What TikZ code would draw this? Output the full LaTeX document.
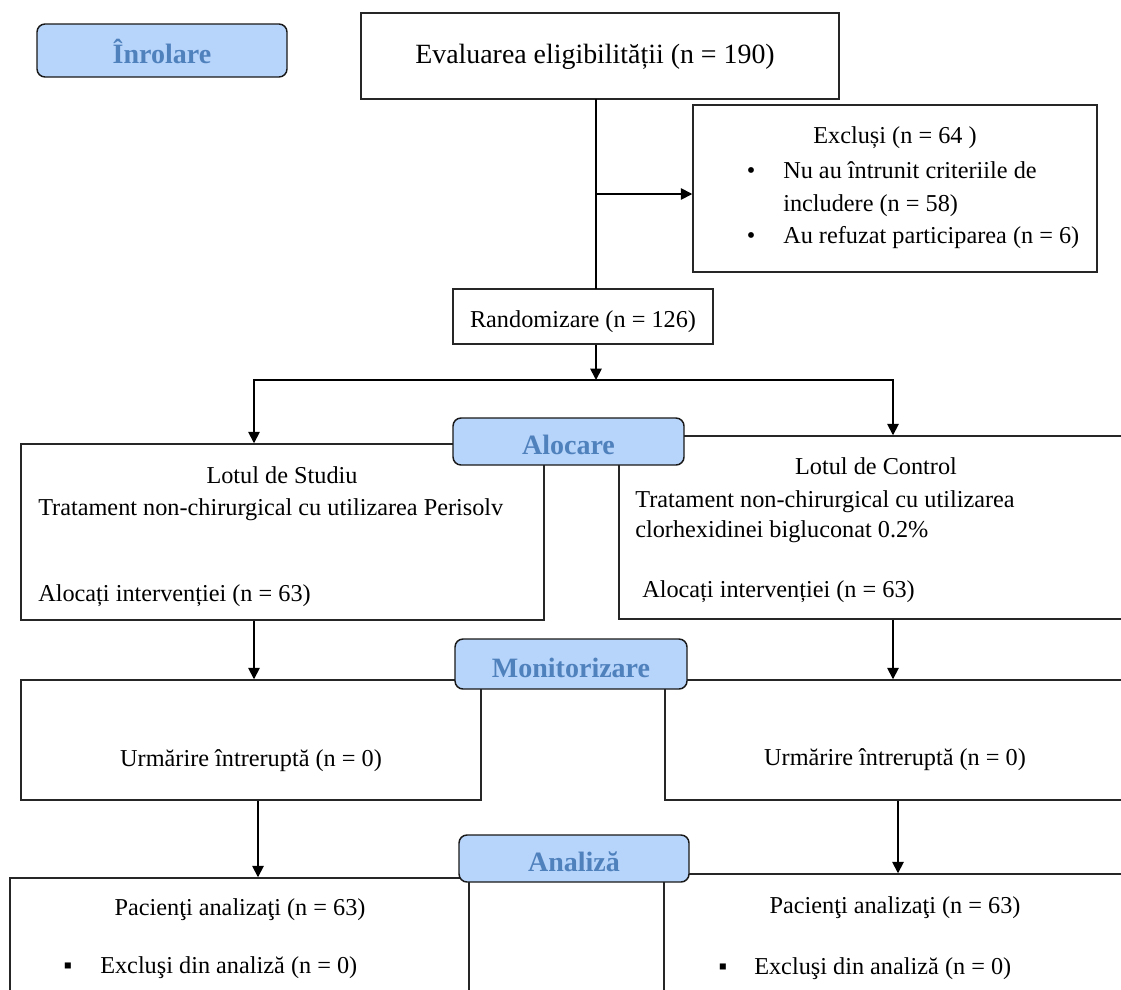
\documentclass[tikz,border=0pt]{standalone}
\usepackage{fontspec}
\setmainfont{Liberation Serif}
\usetikzlibrary{arrows.meta,fit}
\definecolor{lblfill}{RGB}{183,212,250}
\definecolor{lbltext}{RGB}{79,129,189}
\begin{document}
\begin{tikzpicture}[x=0.75pt,y=-0.75pt,
  box/.style={draw=black!85, line width=1.1pt, inner sep=0pt},
  phase/.style={draw=black!90, line width=1.1pt, fill=lblfill, rounded corners=6pt, inner sep=0pt},
  phasetxt/.style={inner sep=0pt, anchor=base, text=lbltext, font=\fontsize{21}{24}\selectfont\bfseries},
  txt/.style={inner sep=0pt, font=\fontsize{18.2}{22}\selectfont},
  conn/.style={line width=1.3pt, black, line cap=rect},
  arr/.style={line width=1.3pt, black, -{Triangle[width=8.5pt,length=8.5pt]}}
]
\useasboundingbox (0,0) rectangle (1121,989);
\clip (0,0) rectangle (1121,989);

% boxes
\node[box, fit={(361,13) (839,99)}] (eval) {};
\node[box, fit={(693,105) (1097,272)}] (excl) {};
\node[box, fit={(453,289) (713,344)}] (rand) {};
\node[box, fit={(21,444) (544,620)}] (stud) {};
\node[box, fit={(619,436) (1133,619)}] (ctrl) {};
\node[box, fit={(21,680) (481,800)}] (monL) {};
\node[box, fit={(665,680) (1126,800)}] (monR) {};
\node[box, fit={(10,878) (469,1010)}] (anaL) {};
\node[box, fit={(664,874) (1126,1010)}] (anaR) {};

% phase labels
\node[phase, fit={(37,24) (287,77)}] (pInr) {};
\node[phase, fit={(453,418) (684,465)}] (pAloc) {};
\node[phase, fit={(455,639) (687,689)}] (pMon) {};
\node[phase, fit={(459,835) (689,882)}] (pAna) {};
\node[phasetxt] (tInr) at (162,63) {Înrolare};
\node[phasetxt] (tAloc) at (568.5,454) {Alocare};
\node[phasetxt] (tMon) at (571,677) {Monitorizare};
\node[phasetxt] (tAna) at (574,871) {Analiză};

% texts
\node[txt, anchor=base, font=\fontsize{20.9}{24}\selectfont] (tEval) at (595,63) {Evaluarea eligibilității (n = 190)};
\node[txt, anchor=base] (tExcl) at (895,143) {Excluși (n = 64 )};
\node[txt, anchor=base] (bE1) at (751,178) {•};
\node[txt, anchor=base west] (tE1) at (783,178) {Nu au întrunit criteriile de};
\node[txt, anchor=base west] (tE2) at (783,211) {includere (n = 58)};
\node[txt, anchor=base] (bE3) at (751,243) {•};
\node[txt, anchor=base west] (tE3) at (783,243) {Au refuzat participarea (n = 6)};
\node[txt, anchor=base] (tRand) at (583,327) {Randomizare (n = 126)};

\node[txt, anchor=base] (tS1) at (282,483) {Lotul de Studiu};
\node[txt, anchor=base west] (tS2) at (38,515) {Tratament non-chirurgical cu utilizarea Perisolv};
\node[txt, anchor=base west] (tS3) at (38,601) {Alocați intervenției (n = 63)};

\node[txt, anchor=base] (tC1) at (876,474) {Lotul de Control};
\node[txt, anchor=base west] (tC2) at (635,507) {Tratament non-chirurgical cu utilizarea};
\node[txt, anchor=base west] (tC3) at (635,537) {clorhexidinei bigluconat 0.2\%};
\node[txt, anchor=base west] (tC4) at (642,597) {Alocați intervenției (n = 63)};

\node[txt, anchor=base] (tML) at (251,766) {Urmărire întreruptă (n = 0)};
\node[txt, anchor=base] (tMR) at (895,765) {Urmărire întreruptă (n = 0)};

\node[txt, anchor=base] (tAL1) at (240,915) {Pacienţi analizaţi (n = 63)};
\node[txt, anchor=base] (bAL) at (68,973) {▪};
\node[txt, anchor=base west] (tAL2) at (100,973) {Excluşi din analiză (n = 0)};
\node[txt, anchor=base] (tAR1) at (895,913) {Pacienţi analizaţi (n = 63)};
\node[txt, anchor=base] (bAR) at (723,974) {▪};
\node[txt, anchor=base west] (tAR2) at (754,974) {Excluşi din analiză (n = 0)};

% helper coordinates
\coordinate (xA) at (596,0);
\coordinate (br) at (596,194);
\coordinate (sp) at (596,380);
\coordinate (spL) at (254,380);
\coordinate (spR) at (893,380);
\coordinate (xL1) at (254,0);
\coordinate (xR1) at (893,0);
\coordinate (xL2) at (258,0);
\coordinate (xR2) at (898,0);

% connectors
\draw[conn] (eval.south -| xA) -- (rand.north -| xA);
\draw[arr] (br) -- (excl.west |- br);
\draw[arr] (rand.south -| xA) -- (sp);
\draw[conn] (spL) -- (spR);
\draw[arr] (spL) -- (stud.north -| spL);
\draw[arr] (spR) -- (ctrl.north -| spR);
\draw[arr] (stud.south -| xL1) -- (monL.north -| xL1);
\draw[arr] (ctrl.south -| xR1) -- (monR.north -| xR1);
\draw[arr] (monL.south -| xL2) -- (anaL.north -| xL2);
\draw[arr] (monR.south -| xR2) -- (anaR.north -| xR2);
\end{tikzpicture}
\end{document}
